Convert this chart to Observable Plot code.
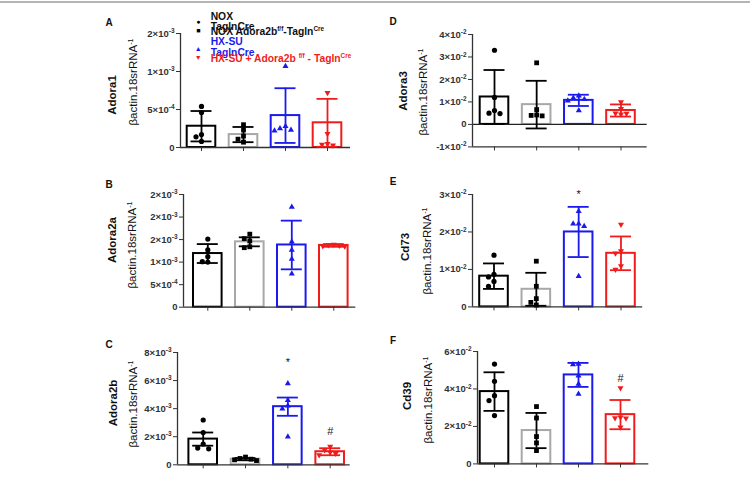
<!DOCTYPE html>
<html><head><meta charset="utf-8">
<script src="https://cdn.jsdelivr.net/npm/d3@7"></script>
<script src="https://cdn.jsdelivr.net/npm/@observablehq/plot@0.6"></script>
<style>
body{margin:0;background:#fff;}
#root{position:relative;width:750px;height:477px;overflow:hidden;background:#fff;font-family:"Liberation Sans",Arial,sans-serif;color:#111;}
#root svg{position:absolute;overflow:visible;}
.abs{position:absolute;white-space:nowrap;line-height:1;}
.rot{transform:translate(-50%,-50%) rotate(-90deg);}
.t1{font-weight:bold;font-size:11.5px;}
.t2{font-size:11.5px;}
sup{font-size:0.62em;vertical-align:0.55em;line-height:0;}
.letter{font-weight:bold;font-size:10px;transform:translate(-50%,-50%);}
.leg{font-weight:bold;font-size:10.3px;transform:translateY(-50%);}
.sym{font-size:7px;transform:translate(-50%,-50%);}
.topline{position:absolute;left:0;top:1px;width:750px;height:2px;background:#b5b5b5;}
</style></head>
<body><div id="root"><div class="topline"></div></div>
<script>
// ---------------- data ----------------
const groups = ["NOX TaglnCre", "NOX Adora2b f/f-Tagln Cre", "HX-SU TaglnCre", "HX-SU + Adora2b f/f - Tagln Cre"];

const adora1Mean = [2.8e-4, 1.7e-4, 4.2e-4, 3.25e-4];
const adora1Err  = [2.0e-4, 1.0e-4, 3.6e-4, 3.15e-4];
const adora1Pts  = [[5.4e-4, 4.6e-4, 1.7e-4, 1.4e-4, 0.8e-4], [3.0e-4, 2.3e-4, 1.5e-4, 1.1e-4, 0.7e-4], [1.07e-3, 2.8e-4, 2.5e-4, 2.3e-4, 2.2e-4], [7.2e-4, 1.8e-4, 0.5e-4, 0.4e-4, 0.3e-4]];
const adora1Ticks = [0, 5e-4, 1e-3, 1.5e-3];
const adora1Labels = ["0", "5×10⁻⁴", "1×10⁻³", "2×10⁻³"];

const adora2aMean = [1.19e-3, 1.45e-3, 1.38e-3, 1.37e-3];
const adora2aErr  = [0.21e-3, 0.10e-3, 0.54e-3, 0.03e-3];
const adora2aPts  = [[1.51e-3, 1.27e-3, 1.12e-3, 1.01e-3, 1.0e-3], [1.62e-3, 1.52e-3, 1.47e-3, 1.34e-3, 1.32e-3], [2.22e-3, 1.45e-3, 1.27e-3, 1.07e-3, 0.74e-3], [1.39e-3, 1.38e-3, 1.37e-3, 1.36e-3, 1.35e-3]];
const adora2aTicks = [0, 5e-4, 1e-3, 1.5e-3, 2e-3, 2.5e-3];
const adora2aLabels = ["0", "5×10⁻⁴", "1×10⁻³", "2×10⁻³", "2×10⁻³", "2×10⁻³"];

const adora2bMean = [1.83e-3, 0.4e-3, 4.14e-3, 0.93e-3];
const adora2bErr  = [0.47e-3, 0.08e-3, 0.65e-3, 0.25e-3];
const adora2bPts  = [[3.19e-3, 2.3e-3, 1.48e-3, 1.19e-3, 1.14e-3], [0.55e-3, 0.45e-3, 0.4e-3, 0.35e-3, 0.3e-3], [5.8e-3, 4.6e-3, 4.2e-3, 4.0e-3, 2.0e-3], [1.3e-3, 1.05e-3, 0.9e-3, 0.8e-3, 0.7e-3]];
const adora2bTicks = [0, 2e-3, 4e-3, 6e-3, 8e-3];
const adora2bLabels = ["0", "2×10⁻³", "4×10⁻³", "6×10⁻³", "8×10⁻³"];
const adora2bMarks = [{g: 3, y: 7.3e-3, t: "*"}, {g: 4, y: 2.37e-3, t: "#"}];

const adora3Mean = [1.22e-2, 0.88e-2, 1.07e-2, 0.62e-2];
const adora3Err  = [1.2e-2, 1.06e-2, 0.25e-2, 0.27e-2];
const adora3Pts  = [[3.3e-2, 1.2e-2, 0.62e-2, 0.5e-2, 0.48e-2], [2.74e-2, 0.66e-2, 0.42e-2, 0.4e-2, 0.38e-2], [1.27e-2, 1.17e-2, 1.12e-2, 1.05e-2, 0.62e-2], [1.0e-2, 0.7e-2, 0.5e-2, 0.45e-2, 0.48e-2]];
const adora3Ticks = [-1e-2, 0, 1e-2, 2e-2, 3e-2, 4e-2];
const adora3Labels = ["-1×10⁻²", "0", "1×10⁻²", "2×10⁻²", "3×10⁻²", "4×10⁻²"];

const cd73Mean = [0.82e-2, 0.47e-2, 2.0e-2, 1.43e-2];
const cd73Err  = [0.34e-2, 0.44e-2, 0.67e-2, 0.45e-2];
const cd73Pts  = [[1.38e-2, 0.87e-2, 0.8e-2, 0.68e-2, 0.55e-2], [1.22e-2, 0.55e-2, 0.22e-2, 0.12e-2, 0.05e-2], [2.55e-2, 2.22e-2, 2.22e-2, 2.15e-2, 0.82e-2], [2.2e-2, 1.49e-2, 1.43e-2, 1.09e-2, 1.0e-2]];
const cd73Ticks = [0, 1e-2, 2e-2, 3e-2];
const cd73Labels = ["0", "1×10⁻²", "2×10⁻²", "3×10⁻²"];
const cd73Marks = [{g: 3, y: 3.01e-2, t: "*"}];

const cd39Mean = [3.86e-2, 1.78e-2, 4.75e-2, 2.63e-2];
const cd39Err  = [1.03e-2, 0.94e-2, 0.64e-2, 0.78e-2];
const cd39Pts  = [[5.33e-2, 4.41e-2, 3.64e-2, 3.38e-2, 2.58e-2], [3.06e-2, 2.45e-2, 1.46e-2, 1.12e-2, 0.71e-2], [5.33e-2, 5.3e-2, 4.7e-2, 4.27e-2, 3.73e-2], [4.05e-2, 2.49e-2, 2.45e-2, 2.43e-2, 1.95e-2]];
const cd39Ticks = [0, 2e-2, 4e-2, 6e-2];
const cd39Labels = ["0", "2×10⁻²", "4×10⁻²", "6×10⁻²"];
const cd39Marks = [{g: 4, y: 4.56e-2, t: "#"}];

// ---------------- styling ----------------
const BLUE = "#1a1aee", RED = "#f01c1c";
const barStroke = ["#000", "#a8a8a8", BLUE, RED];
const errStroke = ["#000", "#000", BLUE, RED];
const dotFill = ["#000", "#000", BLUE, RED];
const triDown = {draw(ctx, size) {
  const y = -Math.sqrt(size / (Math.sqrt(3) * 3)), s3 = Math.sqrt(3);
  ctx.moveTo(0, -y * 2); ctx.lineTo(-s3 * y, y); ctx.lineTo(s3 * y, y); ctx.closePath();
}};
const symbols = ["circle", "square", "triangle", triDown];
const dotR = [2.6, 2.7, 2.25, 2.25];
const SUP = {"⁻": "-", "⁰": "0", "¹": "1", "²": "2", "³": "3", "⁴": "4", "⁵": "5", "⁶": "6", "⁷": "7", "⁸": "8", "⁹": "9"};

const root = document.getElementById("root");

function dodge(vals, gi, pxPerUnit, s) {
  const placed = [], out = [];
  const sorted = vals.slice().sort((a, b) => b - a);
  const step = 5.5, R = 5.2;
  for (const v of sorted) {
    const py = v * pxPerUnit;
    let off = 0;
    for (let k = 0; k < 30; k++) {
      const cand = k === 0 ? 0 : (k % 2 ? -Math.ceil(k / 2) : Math.ceil(k / 2)) * step;
      if (placed.every(p => Math.hypot(p.px - cand, p.py - py) >= R)) { off = cand; break; }
    }
    placed.push({px: off, py});
    out.push({x: gi + off / s, v});
  }
  return out;
}

// turn unicode superscripts in tick labels into raised tspans
function raiseSuperscripts(svg) {
  svg.querySelectorAll("text").forEach(t => {
    const s = t.textContent;
    const m = s.match(/^([^⁻⁰¹²³⁴⁵⁶⁷⁸⁹]*)([⁻⁰¹²³⁴⁵⁶⁷⁸⁹]+)$/);
    if (!m) return;
    while (t.firstChild) t.removeChild(t.firstChild);
    const ns = "http://www.w3.org/2000/svg";
    const a = document.createElementNS(ns, "tspan"); a.textContent = m[1];
    const b = document.createElementNS(ns, "tspan");
    b.textContent = [...m[2]].map(c => SUP[c]).join("");
    b.setAttribute("font-size", "6.5px");
    b.setAttribute("dy", "-3.5");
    t.appendChild(a); t.appendChild(b);
  });
}

function panel(cfg) {
  const {mean, err, pts, ticks, labels, geo, marks = [], zero = false} = cfg;
  const s = (geo.c4 - geo.c1) / 3;
  const xDomain = [1 - (geo.c1 - geo.ax) / s, 4 + (geo.right - geo.c4) / s];
  const W = geo.right - geo.ax, H = geo.bottom - geo.top;
  const ml = 60, mr = 8, mt = 8, mb = 10;
  const ymin = ticks[0], ymax = ticks[ticks.length - 1];
  const pxPerUnit = H / (ymax - ymin);
  const bw = 14.3 / s, cap = 10.5 / s;
  const mk = [];
  groups.forEach((g, k) => {
    const i = k + 1;
    const row = [{i, m: mean[k], e: err[k]}];
    mk.push(Plot.rectY(row, {x1: d => d.i - bw, x2: d => d.i + bw, y1: 0, y2: "m", fill: "white", stroke: barStroke[k], strokeWidth: 2}));
  });
  mk.push(Plot.ruleY([ymin], {stroke: "#333", strokeWidth: 1.3}));
  if (zero) mk.push(Plot.ruleY([0], {stroke: "#222", strokeWidth: 1.3}));
  mk.push(Plot.ruleX([xDomain[0]], {stroke: "#333", strokeWidth: 1.3}));
  mk.push(Plot.axisY({ticks, tickFormat: d => labels[ticks.indexOf(d)], tickSize: 4, tickPadding: 2, label: null, color: "#333"}));
  mk.push(Plot.axisX({ticks: [1, 2, 3, 4], tickFormat: () => "", tickSize: 4, label: null, color: "#333"}));
  groups.forEach((g, k) => {
    const i = k + 1;
    const row = [{i, m: mean[k], e: err[k]}];
    mk.push(Plot.ruleX(row, {x: "i", y1: d => d.m - d.e, y2: d => d.m + d.e, stroke: errStroke[k], strokeWidth: 1.8}));
    mk.push(Plot.ruleY(row, {y: d => d.m + d.e, x1: d => d.i - cap, x2: d => d.i + cap, stroke: errStroke[k], strokeWidth: 1.8}));
    mk.push(Plot.ruleY(row, {y: d => d.m - d.e, x1: d => d.i - cap, x2: d => d.i + cap, stroke: errStroke[k], strokeWidth: 1.8}));
    mk.push(Plot.dot(dodge(pts[k], i, pxPerUnit, s), {x: "x", y: "v", symbol: symbols[k], fill: dotFill[k], stroke: "none", r: dotR[k]}));
  });
  mk.push(Plot.text(marks, {x: "g", y: "y", text: "t", fill: "#222", fontSize: 11, fontWeight: "normal"}));
  const svg = Plot.plot({
    width: W + ml + mr, height: H + mt + mb,
    marginLeft: ml, marginRight: mr, marginTop: mt, marginBottom: mb,
    x: {domain: xDomain}, y: {domain: [ymin, ymax]},
    style: {fontFamily: "'Liberation Sans', Arial, sans-serif", fontSize: "9.5px", fontWeight: "bold", color: "#222", background: "transparent"},
    marks: mk
  });
  raiseSuperscripts(svg);
  svg.style.left = (geo.ax - ml) + "px";
  svg.style.top = (geo.top - mt) + "px";
  root.appendChild(svg);
}

function addText(html, cls, x, y, color) {
  const d = document.createElement("div");
  d.className = "abs " + cls;
  d.style.left = x + "px"; d.style.top = y + "px";
  if (color) d.style.color = color;
  d.innerHTML = html;
  root.appendChild(d);
}

panel({mean: adora1Mean, err: adora1Err, pts: adora1Pts, ticks: adora1Ticks, labels: adora1Labels,
  geo: {ax: 180, top: 33, bottom: 147, right: 350, c1: 201, c4: 327}});
panel({mean: adora2aMean, err: adora2aErr, pts: adora2aPts, ticks: adora2aTicks, labels: adora2aLabels,
  geo: {ax: 182.7, top: 194, bottom: 306.7, right: 355, c1: 207, c4: 333}});
panel({mean: adora2bMean, err: adora2bErr, pts: adora2bPts, ticks: adora2bTicks, labels: adora2bLabels, marks: adora2bMarks,
  geo: {ax: 177.3, top: 351.7, bottom: 464, right: 350, c1: 203, c4: 330}});
panel({mean: adora3Mean, err: adora3Err, pts: adora3Pts, ticks: adora3Ticks, labels: adora3Labels, zero: true,
  geo: {ax: 472, top: 34.3, bottom: 146.7, right: 646.7, c1: 494, c4: 620.5}});
panel({mean: cd73Mean, err: cd73Err, pts: cd73Pts, ticks: cd73Ticks, labels: cd73Labels, marks: cd73Marks,
  geo: {ax: 471.5, top: 193.8, bottom: 306.2, right: 641.7, c1: 493, c4: 620}});
panel({mean: cd39Mean, err: cd39Err, pts: cd39Pts, ticks: cd39Ticks, labels: cd39Labels, marks: cd39Marks,
  geo: {ax: 477, top: 351.3, bottom: 463.7, right: 648.3, c1: 494, c4: 620}});

// panel letters
[["A", 109, 23], ["B", 109, 185], ["C", 109, 345], ["D", 393, 22], ["E", 393, 182], ["F", 393, 341]]
  .forEach(([t, x, y]) => addText(t, "letter", x, y));

// y titles
const beta = "βactin.18srRNA<sup>-1</sup>";
[["Adora1", 113, 95, 134, 82], ["Adora2a", 113, 240, 133, 245], ["Adora2b", 114, 403, 134, 404],
 ["Adora3", 404, 91, 424, 92], ["Cd73", 406, 247, 428, 251], ["Cd39", 408, 396, 429, 400]]
  .forEach(([t, x1, y1, x2, y2]) => { addText(t, "rot t1", x1, y1); addText(beta, "rot t2", x2, y2); });

// legend
addText("●", "sym", 198.3, 20.7, "#000");
addText("■", "sym", 198.3, 30, "#000");
addText("▲", "sym", 198.3, 47.7, BLUE);
addText("▼", "sym", 198.3, 56.7, RED);
addText("NOX", "leg", 210.7, 16.7, "#111");
addText("TaglnCre", "leg", 210.7, 26.7, "#111");
addText("NOX Adora2b<sup>f/f</sup>-Tagln<sup>Cre</sup>", "leg", 210.7, 31.5, "#111");
addText("HX-SU", "leg", 210.7, 41.5, BLUE);
addText("TaglnCre", "leg", 210.7, 53.3, BLUE);
addText("HX-SU + Adora2b <sup>f/f</sup> - Tagln<sup>Cre</sup>", "leg", 210.7, 58.5, RED);
</script></body></html>
